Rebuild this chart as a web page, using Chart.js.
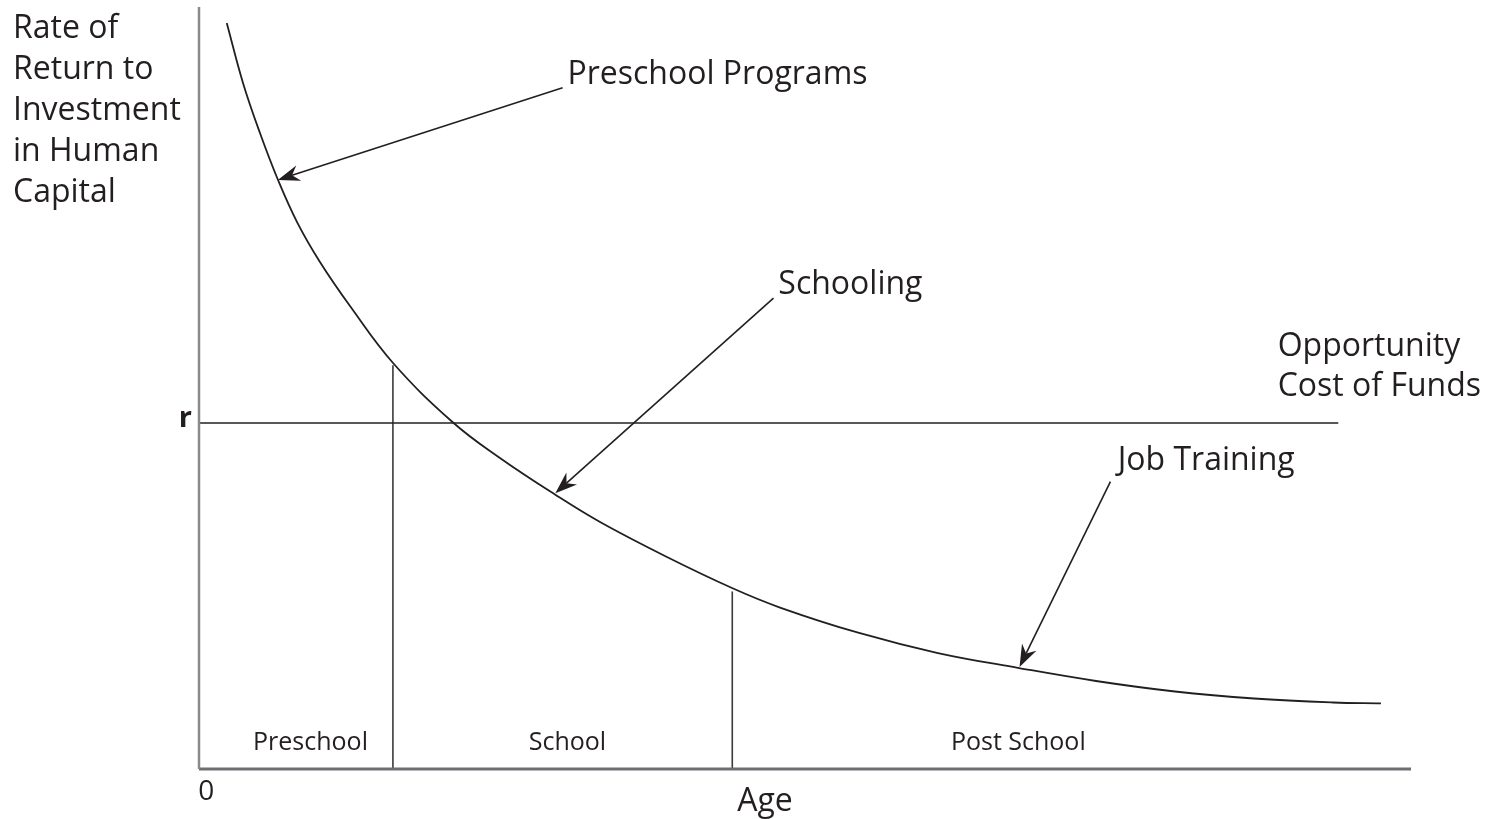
<!DOCTYPE html>
<html>
<head>
<meta charset="utf-8">
<script src="https://cdn.jsdelivr.net/npm/chart.js@4.4.0/dist/chart.umd.min.js"></script>
<style>
  html, body { margin: 0; padding: 0; background: #fff; }
  #wrap { width: 1487px; height: 819px; }
</style>
</head>
<body>
<div id="wrap"><canvas id="grafico"></canvas></div>
<script>
// Curva: edad vs tasa de retorno (escala 0-100)
const edad    = [2.29, 3.63, 5.03, 6.52, 8.09, 9.98, 12.46, 16.01, 20.96, 24.83, 29.37, 33.09, 38.61, 43.98, 47.94, 54.46, 60.97, 67.66, 74.01, 80.53, 87.05, 93.56, 97.52];
const retorno = [97.9, 90.03, 83.46, 77.3, 71.78, 66.54, 60.76, 53.28, 45.47, 40.81, 36.02, 32.41, 27.82, 23.75, 21.19, 17.85, 15.22, 13.25, 11.55, 10.17, 9.25, 8.73, 8.62];

// Costo de oportunidad (r) y su extensión
const tasaR = 45.4;
const finR = 94.0;

// Límites entre etapas y altura de cada línea vertical
const limitesEtapa = [16.0, 44.0];
const topeEtapa = [53.0, 23.3];

// Etiquetas de etapas sobre el eje X
const etapas = ['Preschool', 'School', 'Post School'];
const centroEtapas = [9.2, 30.4, 67.6];

const tituloY = ['Rate of', 'Return to', 'Investment', 'in Human', 'Capital'];

// Flechas: texto, punto de inicio y punta
const flechas = [
  { texto: 'Preschool Programs', tx: 30.4, ty: 91.1, desde: [30.0, 89.4], hasta: [6.5, 77.3] },
  { texto: 'Schooling',          tx: 47.8, ty: 63.5, desde: [47.4, 61.8], hasta: [29.4, 36.2] },
  { texto: 'Job Training',       tx: 75.8, ty: 40.4, desde: [75.2, 37.7], hasta: [67.7, 13.4] }
];

const TINTA = '#231f20';
const FUENTE = '"Open Sans", "Noto Sans", sans-serif';

const puntosCurva = edad.map((x, i) => ({ x, y: retorno[i] }));

const anotaciones = {
  id: 'anotaciones',
  afterDatasetsDraw(chart) {
    const { ctx } = chart;
    const sx = chart.scales.x, sy = chart.scales.y;
    const px = v => sx.getPixelForValue(v);
    const py = v => sy.getPixelForValue(v);

    ctx.save();
    ctx.fillStyle = TINTA;
    ctx.textBaseline = 'middle';

    // título del eje Y
    ctx.font = `32px ${FUENTE}`;
    ctx.textAlign = 'left';
    tituloY.forEach((t, i) => ctx.fillText(t, 13, 29 + i * 41));

    // r
    ctx.font = `bold 29px ${FUENTE}`;
    ctx.textAlign = 'right';
    ctx.fillText('r', px(0) - 7, py(tasaR) - 4);

    // costo de oportunidad
    ctx.font = `32px ${FUENTE}`;
    ctx.textAlign = 'left';
    ctx.fillText('Opportunity', px(89.0), py(55.4));
    ctx.fillText('Cost of Funds', px(89.0), py(50.1));

    // etapas
    ctx.font = `25px ${FUENTE}`;
    ctx.textAlign = 'center';
    etapas.forEach((e, i) => ctx.fillText(e, px(centroEtapas[i]), py(3.4)));

    // 0 y Age
    ctx.font = `28px ${FUENTE}`;
    ctx.fillText('0', px(0.6), py(-3.0));
    ctx.font = `32px ${FUENTE}`;
    ctx.fillText('Age', px(46.7), py(-4.3));

    // flechas con texto
    flechas.forEach(f => {
      ctx.font = `32px ${FUENTE}`;
      ctx.textAlign = 'left';
      ctx.fillText(f.texto, px(f.tx), py(f.ty));

      const x0 = px(f.desde[0]), y0 = py(f.desde[1]);
      const x1 = px(f.hasta[0]), y1 = py(f.hasta[1]);
      const ang = Math.atan2(y1 - y0, x1 - x0);
      const largo = 22, ancho = 8, muesca = 15;

      ctx.strokeStyle = TINTA;
      ctx.lineWidth = 1.6;
      ctx.beginPath();
      ctx.moveTo(x0, y0);
      ctx.lineTo(x1 - Math.cos(ang) * muesca, y1 - Math.sin(ang) * muesca);
      ctx.stroke();

      const bx = x1 - Math.cos(ang) * largo, by = y1 - Math.sin(ang) * largo;
      const nx = -Math.sin(ang), ny = Math.cos(ang);
      ctx.beginPath();
      ctx.moveTo(x1, y1);
      ctx.lineTo(bx + nx * ancho, by + ny * ancho);
      ctx.lineTo(x1 - Math.cos(ang) * muesca, y1 - Math.sin(ang) * muesca);
      ctx.lineTo(bx - nx * ancho, by - ny * ancho);
      ctx.closePath();
      ctx.fill();
    });

    ctx.restore();
  }
};

const linea = (data, color, ancho) => ({
  data,
  showLine: true,
  borderColor: color,
  borderWidth: ancho,
  pointRadius: 0,
  fill: false,
  clip: false
});

new Chart(document.getElementById('grafico').getContext('2d'), {
  type: 'scatter',
  data: {
    datasets: [
      // ejes
      linea([{ x: 0, y: 0 }, { x: 0, y: 100 }], '#8a8a8a', 2.5),
      linea([{ x: 0, y: 0 }, { x: 100, y: 0 }], '#6d6e71', 3),
      // costo de oportunidad
      linea([{ x: 0, y: tasaR }, { x: finR, y: tasaR }], TINTA, 1.6),
      // divisiones de etapas
      ...limitesEtapa.map((x, i) => linea([{ x, y: 0 }, { x, y: topeEtapa[i] }], '#3a3a3a', 1.6)),
      // curva suavizada
      Object.assign(linea(puntosCurva, TINTA, 1.8), { tension: 0.4 })
    ]
  },
  options: {
    responsive: true,
    maintainAspectRatio: false,
    animation: false,
    layout: { padding: { left: 199, right: 76, top: 7, bottom: 50 } },
    scales: {
      x: { type: 'linear', min: 0, max: 100, display: false },
      y: { type: 'linear', min: 0, max: 100, display: false }
    },
    plugins: {
      legend: { display: false },
      tooltip: { enabled: false }
    }
  },
  plugins: [anotaciones]
});
</script>
</body>
</html>
